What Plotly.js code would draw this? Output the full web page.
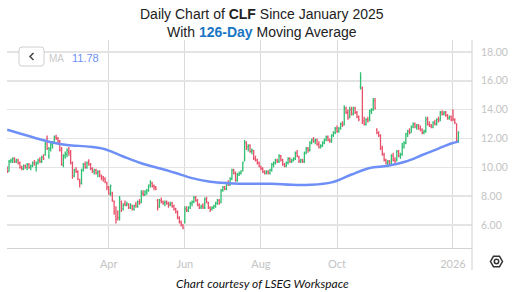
<!DOCTYPE html>
<html>
<head>
<meta charset="utf-8">
<script src="https://cdn.plot.ly/plotly-3.0.1.min.js"></script>
<style>html,body{margin:0;padding:0;background:#fff;}#chart{width:519px;height:292px;}</style>
</head>
<body>
<div id="chart"></div>
<script>
// ---- Data ----
const dates = [
'2025-01-08','2025-01-10','2025-01-13','2025-01-14','2025-01-15','2025-01-16','2025-01-17','2025-01-21','2025-01-22','2025-01-23','2025-01-24','2025-01-27','2025-01-28','2025-01-29','2025-01-30','2025-01-31',
'2025-02-03','2025-02-04','2025-02-05','2025-02-06','2025-02-07','2025-02-10','2025-02-11','2025-02-12','2025-02-13','2025-02-14','2025-02-18','2025-02-19','2025-02-20','2025-02-21','2025-02-24','2025-02-25','2025-02-26','2025-02-27','2025-02-28',
'2025-03-03','2025-03-04','2025-03-05','2025-03-06','2025-03-07','2025-03-10','2025-03-11','2025-03-12','2025-03-13','2025-03-14','2025-03-17','2025-03-18','2025-03-19','2025-03-20','2025-03-21','2025-03-24','2025-03-25','2025-03-26','2025-03-27','2025-03-28','2025-03-31',
'2025-04-01','2025-04-02','2025-04-03','2025-04-04','2025-04-07','2025-04-08','2025-04-09','2025-04-10','2025-04-11','2025-04-14','2025-04-15','2025-04-16','2025-04-17','2025-04-21','2025-04-22','2025-04-23','2025-04-24','2025-04-25','2025-04-28','2025-04-29','2025-04-30',
'2025-05-01','2025-05-02','2025-05-05','2025-05-06','2025-05-07','2025-05-08','2025-05-09','2025-05-12','2025-05-13','2025-05-14','2025-05-15','2025-05-16','2025-05-19','2025-05-20','2025-05-21','2025-05-22','2025-05-23','2025-05-27','2025-05-28','2025-05-29','2025-05-30',
'2025-06-02','2025-06-03','2025-06-04','2025-06-05','2025-06-06','2025-06-09','2025-06-10','2025-06-11','2025-06-12','2025-06-13','2025-06-16','2025-06-17','2025-06-18','2025-06-20','2025-06-23','2025-06-24','2025-06-25','2025-06-26','2025-06-27','2025-06-30',
'2025-07-01','2025-07-02','2025-07-03','2025-07-07','2025-07-08','2025-07-09','2025-07-10','2025-07-11','2025-07-14','2025-07-15','2025-07-16','2025-07-17','2025-07-18','2025-07-21','2025-07-22','2025-07-23','2025-07-24','2025-07-25','2025-07-28','2025-07-29','2025-07-30','2025-07-31',
'2025-08-01','2025-08-04','2025-08-05','2025-08-06','2025-08-07','2025-08-08','2025-08-11','2025-08-12','2025-08-13','2025-08-14','2025-08-15','2025-08-18','2025-08-19','2025-08-20','2025-08-21','2025-08-22','2025-08-25','2025-08-26','2025-08-27','2025-08-28','2025-08-29',
'2025-09-02','2025-09-03','2025-09-04','2025-09-05','2025-09-08','2025-09-09','2025-09-10','2025-09-11','2025-09-12','2025-09-15','2025-09-16','2025-09-17','2025-09-18','2025-09-19','2025-09-22','2025-09-23','2025-09-24','2025-09-25','2025-09-26','2025-09-29','2025-09-30',
'2025-10-01','2025-10-02','2025-10-03','2025-10-06','2025-10-07','2025-10-08','2025-10-09','2025-10-10','2025-10-13','2025-10-14','2025-10-15','2025-10-16','2025-10-17','2025-10-20','2025-10-21','2025-10-22','2025-10-23','2025-10-24','2025-10-27','2025-10-28','2025-10-29','2025-10-30','2025-10-31',
'2025-11-03','2025-11-04','2025-11-05','2025-11-06','2025-11-07','2025-11-10','2025-11-11','2025-11-12','2025-11-13','2025-11-14','2025-11-17','2025-11-18','2025-11-19','2025-11-20','2025-11-21','2025-11-24','2025-11-25','2025-11-26','2025-11-28',
'2025-12-01','2025-12-02','2025-12-03','2025-12-04','2025-12-05','2025-12-08','2025-12-09','2025-12-10','2025-12-11','2025-12-12','2025-12-15','2025-12-16','2025-12-17','2025-12-18','2025-12-19','2025-12-22','2025-12-23','2025-12-24','2025-12-26','2025-12-29','2025-12-30','2025-12-31',
'2026-01-02','2026-01-05','2026-01-06','2026-01-07'
];
const opens = [
10.0,9.7,10.4,10.5,10.6,10.4,10.5,10.3,10.0,9.9,10.1,10.0,10.2,10.0,10.1,10.3,
10.0,10.3,10.5,10.4,10.7,10.9,12.0,10.8,11.3,11.6,11.8,12.1,12.0,11.8,11.3,10.2,10.8,10.9,11.1,
11.0,10.3,9.4,9.8,9.7,9.0,8.9,9.8,10.2,10.0,10.4,10.2,9.9,9.7,9.8,9.6,9.7,9.4,9.3,9.2,8.9,
8.6,8.1,8.2,7.6,6.6,6.9,6.5,7.6,7.1,7.5,7.4,7.4,7.2,7.3,7.1,7.4,7.3,7.6,7.6,8.2,8.1,
8.3,8.4,8.8,8.9,8.7,8.6,7.7,7.3,7.7,7.6,7.5,7.6,7.5,7.4,7.5,7.3,7.1,6.9,6.5,6.2,6.0,
6.2,7.1,7.0,7.2,7.5,7.6,7.9,7.7,7.4,7.2,7.3,7.2,7.8,7.5,7.2,7.1,7.2,7.3,7.5,7.7,
7.6,8.4,8.6,8.5,8.9,8.8,9.2,9.8,9.6,9.1,9.5,9.6,9.8,10.5,11.7,11.4,11.5,11.1,11.1,10.6,10.5,10.3,
10.0,9.9,9.7,9.6,9.7,9.6,9.8,10.2,10.3,10.5,10.4,10.8,10.5,10.2,10.1,10.3,10.6,10.4,10.5,10.6,11.0,
10.7,10.4,10.5,10.4,11.0,11.3,11.2,11.7,11.9,11.8,11.9,11.6,11.4,11.5,11.7,11.9,12.1,11.9,11.8,12.2,12.4,
12.7,12.5,12.7,13.0,13.0,14.1,13.8,13.5,14.0,13.7,14.1,13.8,13.5,15.6,15.5,13.2,13.0,13.3,13.3,13.9,14.0,14.6,12.6,
12.4,12.2,11.3,10.9,10.5,10.3,10.4,10.2,10.8,10.5,10.5,11.1,10.8,10.9,11.4,11.7,12.3,12.5,12.4,
12.8,13.0,12.8,12.9,12.7,12.6,12.4,12.5,13.3,13.0,12.9,12.8,13.1,13.0,13.3,13.3,13.8,13.7,13.8,13.6,13.4,13.5,
13.95,13.3,13.0,11.8
];
const highs = [
10.05,10.5,10.6,10.7,10.7,10.6,10.6,10.4,10.1,10.2,10.2,10.3,10.3,10.2,10.4,10.5,
10.4,10.6,10.7,10.8,10.9,11.8,12.2,11.4,11.7,11.8,12.2,12.25,12.1,11.9,11.4,10.9,11.1,11.3,11.4,
11.2,10.4,9.9,10.0,9.8,9.2,9.9,10.3,10.4,10.4,10.55,10.3,10.0,9.9,9.9,9.8,9.8,9.5,9.4,9.3,9.0,
8.7,8.8,8.3,7.7,7.3,7.0,8.0,7.7,7.5,7.7,7.6,7.5,7.5,7.4,7.4,7.6,7.7,7.8,8.4,8.4,8.4,
8.5,8.8,9.1,9.0,8.8,8.7,7.8,7.8,7.9,7.7,7.7,7.7,7.6,7.6,7.6,7.4,7.2,7.0,6.6,6.3,6.05,
7.3,7.3,7.3,7.6,7.7,8.0,8.0,7.8,7.5,7.4,7.5,7.9,7.95,7.6,7.3,7.3,7.4,7.6,7.8,7.8,
8.5,8.7,8.7,9.0,9.1,9.3,9.9,9.9,9.7,9.6,9.7,9.8,10.4,11.9,11.8,11.6,11.6,11.3,11.2,10.8,10.6,10.4,
10.1,10.0,9.8,9.8,9.8,9.9,10.3,10.4,10.6,10.6,10.9,10.85,10.6,10.3,10.4,10.7,10.7,10.6,10.7,11.1,11.2,
10.8,10.6,10.6,11.1,11.4,11.4,11.8,12.0,12.1,12.0,12.0,11.8,11.6,11.8,12.0,12.2,12.2,12.0,12.3,12.5,12.8,
12.9,12.8,13.1,13.2,14.3,14.2,14.0,14.2,14.2,14.2,14.2,13.9,13.6,16.6,15.6,13.5,13.4,13.5,14.0,14.1,14.8,14.8,12.7,
12.5,12.3,11.5,11.0,10.6,10.5,10.5,10.9,11.0,10.7,11.2,11.2,11.0,11.7,11.8,12.4,12.6,12.7,12.9,
13.1,13.1,13.0,13.0,12.9,12.7,12.6,13.5,13.5,13.2,13.0,13.2,13.3,13.4,13.5,13.9,13.95,13.9,13.9,13.7,13.6,13.6,
14.0,13.4,13.05,12.5
];
const lows = [
9.6,9.7,10.3,10.3,10.3,10.3,10.2,9.9,9.8,9.8,9.9,9.8,9.9,9.8,10.0,10.1,
9.7,10.2,10.3,10.3,10.5,10.8,11.2,10.6,11.1,11.3,11.7,11.9,11.6,11.1,10.1,10.0,10.6,10.7,10.8,
10.2,9.2,9.3,9.6,9.1,8.6,8.8,9.7,9.9,9.9,10.1,9.8,9.6,9.5,9.5,9.3,9.3,9.1,9.0,8.9,8.4,
8.1,8.0,7.6,6.7,6.1,6.3,6.3,6.9,7.0,7.3,7.3,7.1,7.1,7.0,7.0,7.2,7.2,7.4,7.5,8.0,8.0,
8.1,8.3,8.6,8.6,8.4,8.4,7.0,7.2,7.5,7.4,7.3,7.4,7.2,7.3,7.2,7.0,6.8,6.4,6.1,5.9,5.7,
6.1,6.9,6.9,7.1,7.3,7.5,7.6,7.3,7.1,7.1,7.1,7.1,7.5,7.1,6.9,7.0,7.1,7.2,7.4,7.4,
7.5,8.3,8.4,8.4,8.7,8.7,9.1,9.5,9.0,9.0,9.4,9.5,9.7,10.4,11.2,11.1,11.0,10.9,10.5,10.4,10.2,10.0,
9.8,9.6,9.5,9.5,9.5,9.5,9.7,10.0,10.2,10.3,10.3,10.4,10.1,10.0,10.0,10.2,10.3,10.3,10.4,10.5,10.7,
10.3,10.3,10.3,10.3,10.9,11.0,11.1,11.6,11.7,11.6,11.5,11.3,11.3,11.4,11.6,11.8,11.8,11.7,11.7,12.1,12.3,
12.4,12.4,12.6,12.8,12.9,13.7,13.3,13.4,13.6,13.6,13.7,13.4,13.2,15.4,13.0,12.9,12.9,13.1,13.2,13.7,13.9,14.0,12.3,
12.1,11.2,10.8,10.4,10.2,10.0,10.1,10.1,10.4,10.2,10.4,10.7,10.6,10.8,11.3,11.6,12.1,12.3,12.4,
12.7,12.7,12.6,12.6,12.5,12.3,12.3,12.4,12.9,12.8,12.7,12.7,12.9,12.9,13.1,13.2,13.6,13.6,13.5,13.3,13.3,13.2,
13.2,13.0,11.75,11.7
];
const closes = [
9.7,10.4,10.5,10.6,10.4,10.5,10.3,10.0,9.9,10.1,10.0,10.2,10.0,10.1,10.3,10.2,
10.3,10.5,10.4,10.7,10.6,11.6,11.3,11.3,11.6,11.7,12.1,12.0,11.8,11.2,10.2,10.8,10.9,11.2,11.0,
10.3,9.4,9.8,9.7,9.2,8.9,9.8,10.2,10.0,10.3,10.2,9.9,9.7,9.8,9.6,9.7,9.4,9.3,9.2,9.0,8.6,
8.2,8.7,7.7,6.9,6.4,6.5,7.8,7.1,7.4,7.4,7.5,7.2,7.4,7.1,7.3,7.3,7.6,7.5,8.3,8.1,8.3,
8.4,8.7,8.9,8.7,8.6,8.5,7.2,7.7,7.6,7.5,7.6,7.5,7.4,7.5,7.3,7.1,6.9,6.5,6.2,6.0,5.8,
7.1,7.0,7.2,7.5,7.6,7.9,7.7,7.4,7.2,7.3,7.2,7.8,7.6,7.2,7.1,7.2,7.3,7.5,7.7,7.5,
8.4,8.6,8.5,8.9,8.8,9.2,9.8,9.6,9.1,9.5,9.6,9.7,10.3,11.7,11.4,11.5,11.1,11.2,10.6,10.5,10.3,10.1,
9.9,9.7,9.6,9.7,9.6,9.8,10.2,10.3,10.5,10.4,10.8,10.5,10.2,10.1,10.3,10.6,10.4,10.5,10.6,11.0,10.8,
10.4,10.5,10.4,11.0,11.3,11.2,11.7,11.9,11.8,11.9,11.6,11.4,11.5,11.7,11.9,12.1,11.9,11.8,12.2,12.4,12.7,
12.5,12.7,13.0,12.9,14.1,13.8,13.4,14.0,13.7,14.1,13.8,13.5,13.3,16.2,13.2,13.0,13.3,13.2,13.9,14.0,14.6,14.1,12.4,
12.2,11.4,10.9,10.5,10.3,10.4,10.2,10.8,10.5,10.4,11.1,10.8,10.9,11.5,11.7,12.3,12.5,12.4,12.8,
13.0,12.8,12.9,12.7,12.6,12.4,12.5,13.3,13.0,12.9,12.8,13.1,13.0,13.3,13.2,13.8,13.7,13.8,13.6,13.4,13.5,13.3,
13.3,13.1,11.85,12.4
];
// 126-day moving average, read at sampled dates
const maDates = ['2025-01-08','2025-01-31','2025-02-14','2025-02-27','2025-03-18','2025-03-28','2025-04-11','2025-04-28','2025-05-13','2025-05-23','2025-06-06','2025-06-23','2025-07-08','2025-07-24','2025-08-11','2025-08-26','2025-09-10','2025-09-26','2025-10-13','2025-10-27','2025-11-10','2025-11-24','2025-12-08','2025-12-19','2025-12-31','2026-01-07'];
const maValues = [12.6,12.05,11.72,11.55,11.42,11.25,10.75,10.28,9.9,9.6,9.25,9.0,8.9,8.85,8.86,8.78,8.78,8.95,9.5,9.95,10.1,10.4,10.85,11.3,11.65,11.78];
const maLast = '11.78';
const holidays = ['2025-01-09','2025-01-20','2025-02-17','2025-04-18','2025-05-26','2025-06-19','2025-07-04','2025-09-01','2025-11-27','2025-12-25','2026-01-01','2026-01-19'];
const xTickVals = ['2025-04-01','2025-06-02','2025-08-01','2025-10-01','2026-01-02'];
const xTickText = ['Apr','Jun','Aug','Oct','2026'];
const yTickVals = [6,8,10,12,14,16,18];

// ---- Layout helpers (pixel -> paper) ----
const X = px => (px - 7) / 465;
const Y = py => (248 - py) / 208;
const P = (px, py) => X(px) + ',' + Y(py);

const traces = [
  {type:'scatter', mode:'lines', x:maDates, y:maValues, line:{color:'#6e8ff6', width:2.5, shape:'spline', smoothing:1}, hoverinfo:'skip'},
  {type:'ohlc', x:dates, open:opens, high:highs, low:lows, close:closes, tickwidth:0.5,
   increasing:{line:{color:'#2fbf71', width:1.3}}, decreasing:{line:{color:'#e8516a', width:1.3}}, hoverinfo:'skip'}
];

const hex = [[502.5,261.5],[499.5,256.3],[493.5,256.3],[490.5,261.5],[493.5,266.7],[499.5,266.7]];
const hexPath = 'M ' + hex.map(p => P(p[0], p[1])).join(' L ') + ' Z';
const btnPath = 'M ' + P(22,47) + ' L ' + P(41,47) + ' Q ' + P(44,47) + ' ' + P(44,50) + ' L ' + P(44,63) +
  ' Q ' + P(44,66) + ' ' + P(41,66) + ' L ' + P(22,66) + ' Q ' + P(19,66) + ' ' + P(19,63) + ' L ' + P(19,50) +
  ' Q ' + P(19,47) + ' ' + P(22,47) + ' Z';

const layout = {
  width:519, height:292,
  margin:{l:7, r:47, t:40, b:44},
  paper_bgcolor:'#ffffff', plot_bgcolor:'#ffffff',
  showlegend:false, hovermode:false,
  font:{family:'Lato, "Liberation Sans", Arial, sans-serif', color:'#c6c6c6'},
  xaxis:{type:'date', range:['2025-01-07 21:00','2026-01-16 12:00'],
    rangebreaks:[{bounds:['sat','mon']},{values:holidays}],
    rangeslider:{visible:false},
    tickmode:'array', tickvals:xTickVals, ticktext:xTickText,
    showgrid:true, gridcolor:'#dadada', gridwidth:1,
    showline:true, linecolor:'#d2d2d2', linewidth:1,
    ticks:'', ticklabelstandoff:6,
    tickfont:{family:'Lato, sans-serif', size:11, color:'#c4c4c4'},
    zeroline:false, fixedrange:true},
  yaxis:{side:'right', range:[4.4, 18.83], tickmode:'array', tickvals:yTickVals, tickformat:'.2f',
    showgrid:true, gridcolor:'#e4e4e4', gridwidth:1.5, zeroline:false,
    ticks:'', ticklabelstandoff:8,
    tickfont:{family:'Lato, sans-serif', size:10.5, color:'#c4c4c4'}, fixedrange:true},
  shapes:[
    {type:'line', xref:'paper', yref:'paper', x0:1, x1:1, y0:Y(270), y1:1, line:{color:'#d0d0d0', width:1}},
    {type:'path', xref:'paper', yref:'paper', path:btnPath, fillcolor:'#ffffff', line:{color:'#cfcfcf', width:1}, layer:'above'},
    {type:'path', xref:'paper', yref:'paper', path:'M ' + P(33.5,53) + ' L ' + P(30,56.5) + ' L ' + P(33.5,60), line:{color:'#444444', width:1.5}, layer:'above'},
    {type:'path', xref:'paper', yref:'paper', path:hexPath, line:{color:'#333333', width:1.5}},
    {type:'circle', xref:'paper', yref:'paper', x0:X(494.3), x1:X(498.7), y0:Y(263.7), y1:Y(259.3), line:{color:'#333333', width:1.5}}
  ],
  annotations:[
    {xref:'paper', yref:'paper', x:X(262), y:Y(14), xanchor:'center', yanchor:'middle', showarrow:false,
     text:'Daily Chart of <b>CLF</b> Since January 2025', font:{family:'"Liberation Sans", Arial, sans-serif', size:14, color:'#222222'}},
    {xref:'paper', yref:'paper', x:X(262), y:Y(32), xanchor:'center', yanchor:'middle', showarrow:false,
     text:'With <b><span style="color:#1a76c4">126-Day</span></b> Moving Average', font:{family:'"Liberation Sans", Arial, sans-serif', size:14, color:'#222222'}},
    {xref:'paper', yref:'paper', x:X(56), y:Y(58), xanchor:'center', yanchor:'middle', showarrow:false,
     text:'MA', font:{family:'"Liberation Sans", Arial, sans-serif', size:10, color:'#c9c9c9'}},
    {xref:'paper', yref:'paper', x:X(85.5), y:Y(58), xanchor:'center', yanchor:'middle', showarrow:false,
     text:maLast, font:{family:'"Liberation Sans", Arial, sans-serif', size:11, color:'#6e8ff6'}},
    {xref:'paper', yref:'paper', x:X(262), y:Y(283), xanchor:'center', yanchor:'middle', showarrow:false,
     text:'<i>Chart courtesy of LSEG Workspace</i>', font:{family:'Lato, sans-serif', size:12, color:'#111111'}}
  ]
};

Plotly.newPlot('chart', traces, layout, {staticPlot:true, displayModeBar:false});
</script>
</body>
</html>
